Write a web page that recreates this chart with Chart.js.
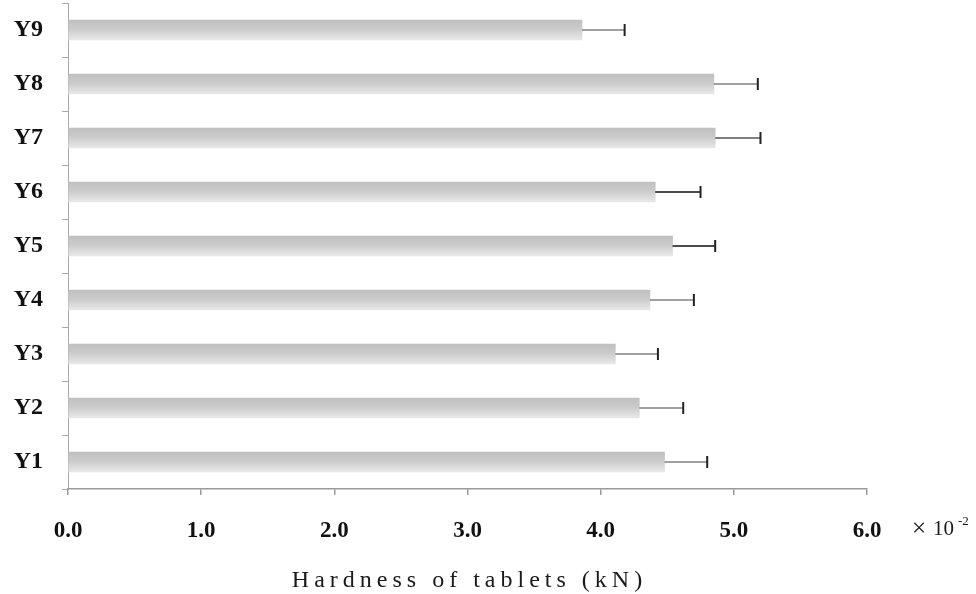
<!DOCTYPE html>
<html>
<head>
<meta charset="utf-8">
<script src="https://cdn.jsdelivr.net/npm/chart.js@4/dist/chart.umd.min.js"></script>
<style>
  html, body { margin: 0; padding: 0; background: #fff; }
  #box { width: 976px; height: 594px; }
</style>
</head>
<body>
<div id="box"><canvas id="myChart"></canvas></div>
<script>
// data (kN x 10^-2)
const categories = ['Y1', 'Y2', 'Y3', 'Y4', 'Y5', 'Y6', 'Y7', 'Y8', 'Y9'];
const hardness = [4.48, 4.29, 4.11, 4.37, 4.54, 4.41, 4.86, 4.85, 3.86];
const hardnessErr = [0.32, 0.33, 0.32, 0.33, 0.32, 0.34, 0.34, 0.33, 0.32];
const xTicks = [0, 1, 2, 3, 4, 5, 6];

const serif = '"Liberation Serif", "Times New Roman", serif';

// grey bars with a soft vertical shade
function barFill(context) {
    const chart = context.chart;
    const yScale = chart.scales.y;
    if (!chart.chartArea || !yScale) return '#cfcfcf';
    const yc = yScale.getPixelForValue(context.dataIndex);
    const g = chart.ctx.createLinearGradient(0, yc - 10, 0, yc + 10);
    g.addColorStop(0, '#c0c0c0');
    g.addColorStop(0.45, '#cbcbcb');
    g.addColorStop(1, '#e8e8e8');
    return g;
}

// error bars on the right end of every bar
const errorBars = {
    id: 'errorBars',
    afterDatasetsDraw(chart) {
        const ctx = chart.ctx;
        const xs = chart.scales.x;
        const meta = chart.getDatasetMeta(0);
        meta.data.forEach((bar, i) => {
            const x0 = xs.getPixelForValue(hardness[i]);
            const x1 = xs.getPixelForValue(hardness[i] + hardnessErr[i]);
            const y = bar.y;
            ctx.save();
            ctx.strokeStyle = (i === 4 || i === 5) ? '#111' : (i === 6 ? '#555' : '#808080');
            ctx.lineWidth = 1.5;
            ctx.beginPath();
            ctx.moveTo(x0, y);
            ctx.lineTo(x1, y);
            ctx.stroke();
            ctx.strokeStyle = '#222';
            ctx.lineWidth = 2;
            ctx.beginPath();
            ctx.moveTo(x1, y - 6);
            ctx.lineTo(x1, y + 6);
            ctx.stroke();
            ctx.restore();
        });
    }
};

// axis title and the x10^-2 multiplier
const extraText = {
    id: 'extraText',
    afterDraw(chart) {
        const ctx = chart.ctx;
        const area = chart.chartArea;
        ctx.save();
        ctx.fillStyle = '#1a1a1a';
        ctx.textBaseline = 'alphabetic';
        ctx.font = '24px ' + serif;
        ctx.letterSpacing = '5px';
        ctx.textAlign = 'center';
        ctx.fillText('Hardness of tablets (kN)', (area.left + area.right) / 2 + 2, 587);
        ctx.letterSpacing = '0px';
        ctx.textAlign = 'left';
        ctx.font = '25px ' + serif;
        ctx.fillText('\u00d7', 912, 536);
        ctx.font = '21px ' + serif;
        ctx.fillText('10', 933, 535);
        ctx.font = '13px ' + serif;
        ctx.fillText('-2', 958, 525);
        ctx.restore();
    }
};

const ctx = document.getElementById('myChart').getContext('2d');

new Chart(ctx, {
    type: 'bar',
    data: {
        labels: categories,
        datasets: [{
            label: 'Hardness',
            data: hardness,
            backgroundColor: barFill,
            borderWidth: 0,
            barThickness: 20
        }]
    },
    options: {
        indexAxis: 'y',
        responsive: true,
        maintainAspectRatio: false,
        animation: false,
        layout: {
            padding: { left: 0, right: 109, top: 3, bottom: 45 }
        },
        scales: {
            x: {
                min: 0,
                max: 6,
                afterBuildTicks(axis) {
                    axis.ticks = xTicks.map(v => ({ value: v }));
                },
                afterFit(axis) {
                    axis.height = 60;
                    axis.paddingLeft = 0;
                    axis.paddingRight = 0;
                },
                ticks: {
                    color: '#111',
                    padding: 22,
                    font: { family: serif, size: 23, weight: 'bold' },
                    callback: v => v.toFixed(1)
                },
                grid: {
                    drawOnChartArea: false,
                    color: '#999',
                    tickLength: 6,
                    lineWidth: 1.5
                },
                border: { color: '#999', width: 1.5 }
            },
            y: {
                reverse: true,
                afterFit(axis) {
                    axis.width = 68;
                    axis.paddingTop = 0;
                    axis.paddingBottom = 0;
                },
                ticks: {
                    color: '#111',
                    padding: 19,
                    font: { family: serif, size: 24, weight: 'bold' }
                },
                grid: {
                    drawOnChartArea: false,
                    color: '#aaa',
                    tickLength: 6,
                    offset: true
                },
                border: { color: '#aaa', width: 1 }
            }
        },
        plugins: {
            legend: { display: false },
            tooltip: { enabled: false }
        }
    },
    plugins: [errorBars, extraText]
});
</script>
</body>
</html>
